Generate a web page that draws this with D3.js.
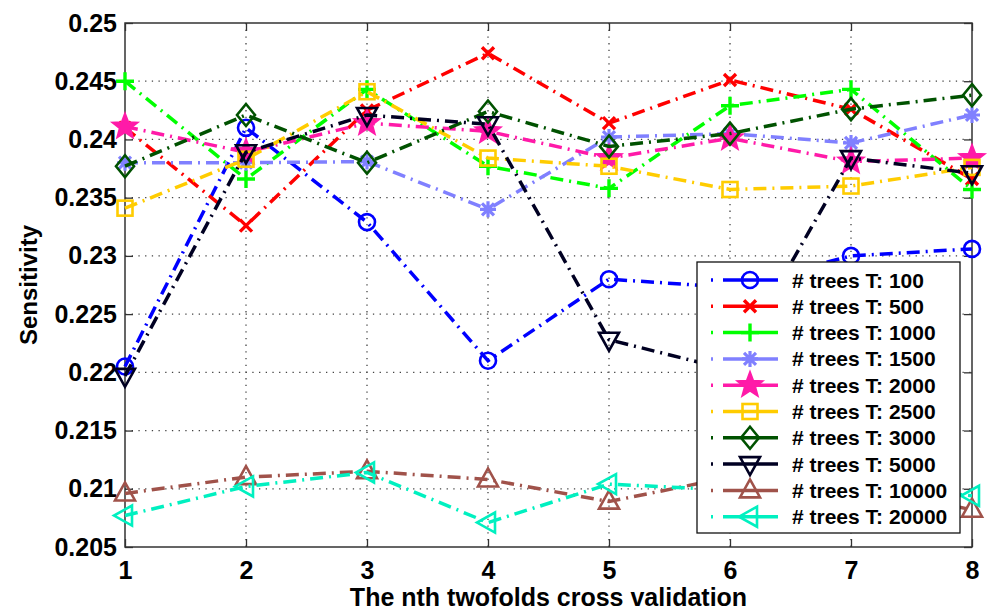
<!DOCTYPE html>
<html>
<head>
<meta charset="utf-8">
<script src="https://cdn.jsdelivr.net/npm/d3@7"></script>
<style>
  body { margin: 0; background: #fff; }
  text { font-family: "Liberation Sans", Arial, Helvetica, sans-serif; font-weight: bold; }
</style>
</head>
<body>
<div id="chart"></div>
<script>
// folds on the x axis
var folds = [1, 2, 3, 4, 5, 6, 7, 8];
var yTicks = [0.205, 0.21, 0.215, 0.22, 0.225, 0.23, 0.235, 0.24, 0.245, 0.25];

// series names, as shown in the legend
var seriesNames = ["# trees T: 100", "# trees T: 500", "# trees T: 1000", "# trees T: 1500", "# trees T: 2000",
                   "# trees T: 2500", "# trees T: 3000", "# trees T: 5000", "# trees T: 10000", "# trees T: 20000"];

// sensitivity per fold
var t100   = [0.2205, 0.2410, 0.2329, 0.2210, 0.2280, 0.2273, 0.2300, 0.2306];
var t500   = [0.2410, 0.2326, 0.2425, 0.2474, 0.2414, 0.2451, 0.2426, 0.2366];
var t1000  = [0.2450, 0.2366, 0.2443, 0.2377, 0.2358, 0.2429, 0.2443, 0.2357];
var t1500  = [0.2380, 0.2380, 0.2381, 0.2340, 0.2402, 0.2405, 0.2397, 0.2421];
var t2000  = [0.2411, 0.2389, 0.2414, 0.2407, 0.2384, 0.2401, 0.2381, 0.2384];
var t2500  = [0.2341, 0.2383, 0.2441, 0.2384, 0.2377, 0.2357, 0.2360, 0.2376];
var t3000  = [0.2377, 0.2421, 0.2380, 0.2424, 0.2394, 0.2405, 0.2426, 0.2438];
var t5000  = [0.2197, 0.2389, 0.2421, 0.2413, 0.2228, 0.2202, 0.2384, 0.2371];
var t10000 = [0.2096, 0.2110, 0.2115, 0.2108, 0.2089, 0.2110, 0.2103, 0.2082];
var t20000 = [0.2077, 0.2102, 0.2114, 0.2071, 0.2104, 0.2099, 0.2104, 0.2094];

var seriesValues = [t100, t500, t1000, t1500, t2000, t2500, t3000, t5000, t10000, t20000];
var colors = ["#0000ff", "#ff0000", "#00ff00", "#8080ff", "#ff1aa8",
              "#ffcc00", "#005200", "#000022", "#a0524a", "#00f0c0"];
var markers = ["circle", "x", "plus", "asterisk", "star", "square", "diamond", "tridown", "triup", "trileft"];

(function() {
    var W = 992, H = 611;
    var pL = 125, pR = 972, pT = 23, pB = 547;

    var svg = d3.select("#chart").append("svg")
        .attr("width", W)
        .attr("height", H);

    svg.append("rect").attr("width", W).attr("height", H).attr("fill", "#fff");

    var x = d3.scaleLinear().domain([1, 8]).range([pL, pR]);
    var y = d3.scaleLinear().domain([0.205, 0.25]).range([pB, pT]);

    // dotted grid
    svg.append("g")
        .selectAll("line")
        .data(yTicks.slice(1, -1))
        .enter().append("line")
        .attr("x1", pL).attr("x2", pR)
        .attr("y1", function(d) { return y(d); })
        .attr("y2", function(d) { return y(d); })
        .attr("stroke", "#444")
        .attr("stroke-width", 1.3)
        .attr("stroke-dasharray", "1.3,5.4");

    svg.append("g")
        .selectAll("line")
        .data(folds.slice(1, -1))
        .enter().append("line")
        .attr("y1", pT).attr("y2", pB)
        .attr("x1", function(d) { return x(d); })
        .attr("x2", function(d) { return x(d); })
        .attr("stroke", "#444")
        .attr("stroke-width", 1.3)
        .attr("stroke-dasharray", "1.3,5.4");

    function styleAxis(g) {
        g.select(".domain").remove();
        g.selectAll("line").attr("stroke", "#333").attr("stroke-width", 1.3);
        g.selectAll("text").attr("font-size", 25).attr("fill", "#000");
    }

    // axes, ticks pointing inward on all four sides
    svg.append("g")
        .attr("transform", "translate(0," + pB + ")")
        .call(d3.axisBottom(x).tickValues(folds).tickSize(-8).tickPadding(14).tickFormat(d3.format("d")))
        .call(styleAxis);

    svg.append("g")
        .attr("transform", "translate(0," + pT + ")")
        .call(d3.axisTop(x).tickValues(folds).tickSize(-8).tickFormat(""))
        .call(styleAxis);

    svg.append("g")
        .attr("transform", "translate(" + pL + ",0)")
        .call(d3.axisLeft(y).tickValues(yTicks).tickSize(-8).tickPadding(8)
              .tickFormat(function(d) { return +d.toFixed(3); }))
        .call(styleAxis);

    svg.append("g")
        .attr("transform", "translate(" + pR + ",0)")
        .call(d3.axisRight(y).tickValues(yTicks).tickSize(-8).tickFormat(""))
        .call(styleAxis);

    svg.append("rect")
        .attr("x", pL).attr("y", pT)
        .attr("width", pR - pL).attr("height", pB - pT)
        .attr("fill", "none")
        .attr("stroke", "#333")
        .attr("stroke-width", 1.5);

    // axis labels
    svg.append("text")
        .attr("x", (pL + pR) / 2)
        .attr("y", 606)
        .attr("text-anchor", "middle")
        .attr("font-size", 25)
        .text("The nth twofolds cross validation");

    svg.append("text")
        .attr("transform", "translate(37," + (pT + pB) / 2 + ") rotate(-90)")
        .attr("text-anchor", "middle")
        .attr("font-size", 24)
        .text("Sensitivity");

    // marker drawing
    function drawMarker(g, type, color) {
        var sw = 2.6;
        if (type == "circle") {
            g.append("circle").attr("r", 8).attr("fill", "none").attr("stroke", color).attr("stroke-width", sw);
        } else if (type == "x") {
            g.append("path").attr("d", "M-6,-6L6,6M-6,6L6,-6").attr("stroke", color).attr("stroke-width", 3.4);
        } else if (type == "plus") {
            g.append("path").attr("d", "M-9,0L9,0M0,-9L0,9").attr("stroke", color).attr("stroke-width", 3.4);
        } else if (type == "asterisk") {
            g.append("path").attr("d", "M-8,0L8,0M0,-8L0,8M-6,-6L6,6M-6,6L6,-6").attr("stroke", color).attr("stroke-width", 3.2);
        } else if (type == "star") {
            var pts = [];
            for (var i = 0; i < 10; i++) {
                var r = i % 2 == 0 ? 13 : 5.5;
                var a = -Math.PI / 2 + i * Math.PI / 5;
                pts.push([r * Math.cos(a), r * Math.sin(a)]);
            }
            g.append("path").attr("d", d3.line()(pts) + "Z")
                .attr("fill", color).attr("stroke", color).attr("stroke-width", 2);
        } else if (type == "square") {
            g.append("rect").attr("x", -7.5).attr("y", -7.5).attr("width", 15).attr("height", 15)
                .attr("fill", "none").attr("stroke", color).attr("stroke-width", sw);
        } else if (type == "diamond") {
            g.append("path").attr("d", "M0,-11L9,0L0,11L-9,0Z").attr("fill", "none").attr("stroke", color).attr("stroke-width", sw);
        } else if (type == "tridown") {
            g.append("path").attr("d", "M-10,-7L10,-7L0,11Z").attr("fill", "none").attr("stroke", color).attr("stroke-width", sw);
        } else if (type == "triup") {
            g.append("path").attr("d", "M-10,7L10,7L0,-11Z").attr("fill", "none").attr("stroke", color).attr("stroke-width", sw);
        } else if (type == "trileft") {
            g.append("path").attr("d", "M7,-10L7,10L-11,0Z").attr("fill", "none").attr("stroke", color).attr("stroke-width", sw);
        }
    }

    var line = d3.line()
        .x(function(d, i) { return x(folds[i]); })
        .y(function(d) { return y(d); });

    // series lines and markers
    seriesValues.forEach(function(vals, s) {
        var g = svg.append("g");
        g.append("path")
            .datum(vals)
            .attr("d", line)
            .attr("fill", "none")
            .attr("stroke", colors[s])
            .attr("stroke-width", 3.5)
            .attr("stroke-dasharray", "13,6,2,6");

        vals.forEach(function(v, i) {
            var m = g.append("g").attr("transform", "translate(" + x(folds[i]) + "," + y(v) + ")");
            drawMarker(m, markers[s], colors[s]);
        });
    });

    // legend
    var lgX = 697, lgY = 262, lgW = 263, lgH = 271, rowH = 26.3;
    svg.append("rect")
        .attr("x", lgX).attr("y", lgY)
        .attr("width", lgW).attr("height", lgH)
        .attr("fill", "#fff")
        .attr("stroke", "#111")
        .attr("stroke-width", 1.3);

    seriesNames.forEach(function(name, s) {
        var cy = lgY + 18 + s * rowH;
        var g = svg.append("g");
        g.append("line")
            .attr("x1", 711).attr("x2", 778)
            .attr("y1", cy).attr("y2", cy)
            .attr("stroke", colors[s])
            .attr("stroke-width", 3.5)
            .attr("stroke-dasharray", "2,10,60");
        var m = g.append("g").attr("transform", "translate(750," + cy + ")");
        drawMarker(m, markers[s], colors[s]);
        g.append("text")
            .attr("x", 792)
            .attr("y", cy)
            .attr("dy", "0.36em")
            .attr("font-size", 21)
            .attr("fill", "#000")
            .text(name);
    });
})();
</script>
</body>
</html>
